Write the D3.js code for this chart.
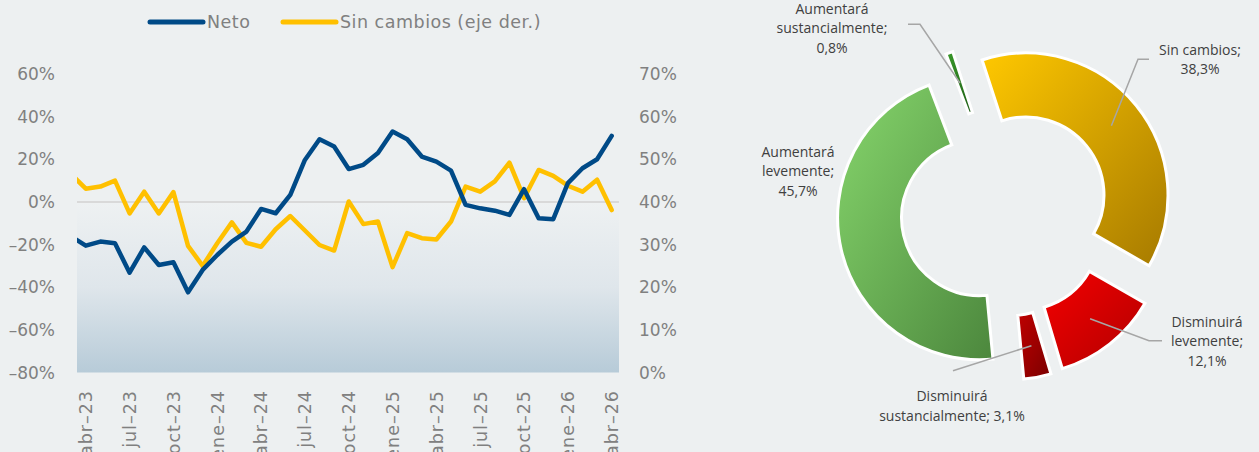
<!DOCTYPE html>
<html>
<head>
<meta charset="utf-8">
<script src="https://cdn.jsdelivr.net/npm/d3@7/dist/d3.min.js"></script>
<style>
  html, body { margin: 0; padding: 0; background: #edf0f1; }
  svg { display: block; font-family: 'Open Sans', sans-serif; }
</style>
</head>
<body>
<div id="chart"></div>
<script>
// monthly series, mar-23 .. abr-26 (first point sits just outside the plot, clipped)
const months = ['mar-23','abr-23','may-23','jun-23','jul-23','ago-23','sep-23','oct-23','nov-23','dic-23',
  'ene-24','feb-24','mar-24','abr-24','may-24','jun-24','jul-24','ago-24','sep-24','oct-24','nov-24','dic-24',
  'ene-25','feb-25','mar-25','abr-25','may-25','jun-25','jul-25','ago-25','sep-25','oct-25','nov-25','dic-25',
  'ene-26','feb-26','mar-26','abr-26']
const neto = [-16.2, -20.5, -18.6, -19.4, -33.2, -21.3, -29.6, -28.3, -42.4, -31.9,
  -24.9, -18.6, -13.9, -3.3, -5.3, 3.3, 19.7, 29.4, 26.0, 15.4, 17.4, 22.9,
  33.0, 29.4, 21.3, 18.9, 14.7, -1.4, -3.0, -4.1, -6.1, 6.0, -7.7, -8.1,
  8.8, 15.8, 20.0, 31.0]
const sinCambios = [46.5, 43.1, 43.6, 45.0, 37.3, 42.4, 37.3, 42.3, 29.7, 25.0,
  30.3, 35.2, 30.4, 29.5, 33.6, 36.7, 33.3, 29.9, 28.6, 40.1, 34.8, 35.4,
  24.7, 32.7, 31.5, 31.2, 35.4, 43.6, 42.4, 44.8, 49.2, 40.9, 47.5, 46.1,
  43.8, 42.4, 45.2, 38.1]
const xTickLabels = ['abr-23','jul-23','oct-23','ene-24','abr-24','jul-24','oct-24','ene-25','abr-25','jul-25','oct-25','ene-26','abr-26']
const leftTicks = [60, 40, 20, 0, -20, -40, -60, -80]
const rightTicks = [70, 60, 50, 40, 30, 20, 10, 0]

// donut
const donutLabels = ['Sin cambios', 'Disminuirá levemente', 'Disminuirá sustancialmente', 'Aumentará levemente', 'Aumentará sustancialmente']
const donutValues = [38.3, 12.1, 3.1, 45.7, 0.8]

const W = 1259, H = 452
const svg = d3.select('#chart').append('svg').attr('width', W).attr('height', H)
const defs = svg.append('defs')

// ---------- line chart ----------
const plot = { left: 77, right: 619, top: 74, bottom: 372.5 }
const x = d3.scaleLinear().domain([0.4, 37.5]).range([plot.left, plot.right])
const y = d3.scaleLinear().domain([-80, 60]).range([plot.bottom, plot.top])
const y2 = d3.scaleLinear().domain([0, 70]).range([plot.bottom, plot.top])

const bgGrad = defs.append('linearGradient').attr('id', 'bgGrad').attr('x1', 0).attr('y1', 0).attr('x2', 0).attr('y2', 1)
bgGrad.append('stop').attr('offset', '0%').attr('stop-color', '#eef1f2')
bgGrad.append('stop').attr('offset', '50%').attr('stop-color', '#dfe6eb')
bgGrad.append('stop').attr('offset', '100%').attr('stop-color', '#b7cbd8')

svg.append('rect')
  .attr('x', plot.left).attr('y', y(0))
  .attr('width', plot.right - plot.left).attr('height', y(-80) - y(0))
  .attr('fill', 'url(#bgGrad)')

svg.append('line')
  .attr('x1', plot.left).attr('x2', plot.right)
  .attr('y1', y(0)).attr('y2', y(0))
  .attr('stroke', '#d9d9d9').attr('stroke-width', 2)

defs.append('clipPath').attr('id', 'plotClip')
  .append('rect').attr('x', plot.left).attr('y', 0).attr('width', plot.right - plot.left).attr('height', H)

const gLines = svg.append('g').attr('clip-path', 'url(#plotClip)')
gLines.append('path')
  .datum(sinCambios)
  .attr('fill', 'none').attr('stroke', '#ffc000').attr('stroke-width', 4.5)
  .attr('stroke-linejoin', 'round').attr('stroke-linecap', 'round')
  .attr('d', d3.line().x((d, i) => x(i)).y(d => y2(d)))
gLines.append('path')
  .datum(neto)
  .attr('fill', 'none').attr('stroke', '#004a87').attr('stroke-width', 4.5)
  .attr('stroke-linejoin', 'round').attr('stroke-linecap', 'round')
  .attr('d', d3.line().x((d, i) => x(i)).y(d => y(d)))

const tickStyle = (s, size, ls) => s.style('font-family', "'DejaVu Sans', sans-serif")
  .style('font-size', size + 'px').style('letter-spacing', ls + 'px').attr('fill', '#808080')
const fmtPct = d => (d < 0 ? '\u2013' + Math.abs(d) : d) + '%'

svg.append('g').selectAll('text').data(leftTicks).join('text')
  .attr('x', 55).attr('y', d => y(d)).attr('dy', '0.36em')
  .attr('text-anchor', 'end').text(fmtPct).call(tickStyle, 17, 0)

svg.append('g').selectAll('text').data(rightTicks).join('text')
  .attr('x', 639).attr('y', d => y2(d)).attr('dy', '0.36em')
  .attr('text-anchor', 'start').text(fmtPct).call(tickStyle, 17, 0)

svg.append('g').selectAll('text').data(xTickLabels).join('text')
  .attr('transform', d => `translate(${x(months.indexOf(d))},390) rotate(-90)`)
  .attr('dy', '0.36em').attr('text-anchor', 'end')
  .text(d => d.replace('-', '\u2013')).call(tickStyle, 17.5, 1)

// legend
const legend = [
  { label: 'Neto', color: '#004a87', x: 150 },
  { label: 'Sin cambios (eje der.)', color: '#ffc000', x: 283 }
]
legend.forEach(l => {
  svg.append('line').attr('x1', l.x).attr('x2', l.x + 53).attr('y1', 22).attr('y2', 22)
    .attr('stroke', l.color).attr('stroke-width', 5).attr('stroke-linecap', 'round')
  svg.append('text').attr('x', l.x + 57).attr('y', 22).attr('dy', '0.36em')
    .text(l.label).call(tickStyle, 17.5, 0.5)
})

// ---------- donut ----------
const cx = 1005.4, cy = 211.7, explode = 26.5
const rOuter = 142, rInner = 78
const sliceColors = [
  ['#ffc800', '#a67a00'],
  ['#f50000', '#b00000'],
  ['#c00000', '#7a0000'],
  ['#86d66c', '#4c873d'],
  ['#3a9a2a', '#1f5e17']
]
sliceColors.forEach((c, i) => {
  const g = defs.append('linearGradient').attr('id', 'slice' + i)
    .attr('x1', 0).attr('y1', 0).attr('x2', 1).attr('y2', 1)
  g.append('stop').attr('offset', '0%').attr('stop-color', c[0])
  g.append('stop').attr('offset', '100%').attr('stop-color', c[1])
})

const pie = d3.pie().sort(null).value(d => d)
  .startAngle(-18 * Math.PI / 180).endAngle(-18 * Math.PI / 180 + 2 * Math.PI)
const arcs = pie(donutValues)
const arc = d3.arc().innerRadius(rInner).outerRadius(rOuter)
const offset = a => {
  const m = (a.startAngle + a.endAngle) / 2
  return [explode * Math.sin(m), -explode * Math.cos(m)]
}

const gDonut = svg.append('g').attr('transform', `translate(${cx},${cy})`)
gDonut.selectAll('path').data(arcs).join('path')
  .attr('transform', d => `translate(${offset(d)})`)
  .attr('d', arc)
  .attr('fill', (d, i) => `url(#slice${i})`)
  .attr('stroke', '#ffffff').attr('stroke-width', 3).attr('stroke-linejoin', 'miter')

// label layout (text positions and leader elbows)
const labelLayout = [
  { lines: ['Sin cambios;', '38,3%'], x: 1200, y: 50, elbow: [[1149, 59.3], [1138, 59.3]] },
  { lines: ['Disminuirá', 'levemente;', '12,1%'], x: 1207, y: 322, elbow: [[1162, 340.7], [1149, 340.7]] },
  { lines: ['Disminuirá', 'sustancialmente; 3,1%'], x: 952, y: 396.5, elbow: [[953, 370.7]] },
  { lines: ['Aumentará', 'levemente;', '45,7%'], x: 798, y: 152, elbow: null },
  { lines: ['Aumentará', 'sustancialmente;', '0,8%'], x: 832, y: 9, elbow: [[908, 24.3], [920, 24.3]] }
]

arcs.forEach((a, i) => {
  const L = labelLayout[i]
  if (L.elbow) {
    const c = arc.centroid(a), o = offset(a)
    const end = [cx + c[0] + o[0], cy + c[1] + o[1]]
    svg.append('polyline')
      .attr('points', [...L.elbow, end].map(p => p.join(',')).join(' '))
      .attr('fill', 'none').attr('stroke', '#a6a6a6').attr('stroke-width', 1.5)
  }
  const t = svg.append('text').attr('text-anchor', 'middle')
    .style('font-size', '14px').attr('fill', '#404040')
  L.lines.forEach((ln, k) => {
    t.append('tspan').attr('x', L.x).attr('y', L.y + k * 19.5).attr('dy', '0.35em').text(ln)
  })
})
</script>
</body>
</html>
